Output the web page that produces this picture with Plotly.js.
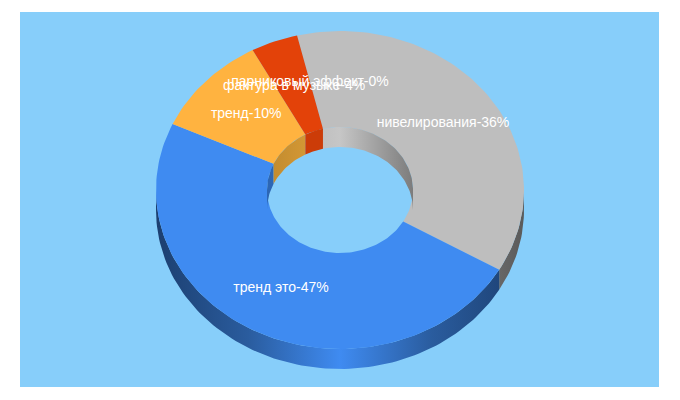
<!DOCTYPE html>
<html><head><meta charset="utf-8">
<script src="https://cdn.plot.ly/plotly-3.0.1.min.js"></script>
<style>html,body{margin:0;padding:0;background:#fff}#c{width:680px;height:400px}</style></head>
<body><div id="c"></div>
<script>
// Data
const categories = ["нивелирования","тренд это","тренд","фактура в музыке","парниковый эффект"];
const shares = [36,47,10,4,0];
// Styles
const topColors = ["#BEBEBE","#3F8BF1","#FFB340","#E34209","#E34209"];
const outerWall = [
  [[0,"#5a5a5a"],[0.5,"#bebebe"],[1,"#5a5a5a"]],
  [[0,"#1c3f70"],[0.25,"#2a5c9e"],[0.5,"#3f8bf1"],[0.75,"#2a5c9e"],[1,"#1c3f70"]],
  [[0,"#805a20"],[1,"#805a20"]],
  [[0,"#712105"],[1,"#712105"]],
  [[0,"#712105"],[1,"#712105"]]
];
const innerWall = [
  [[0,"#b0b0b0"],[0.5,"#c6c6c6"],[1,"#7c7c7c"]],
  [[0,"#2c66b4"],[1,"#3a80e0"]],
  [[0,"#c08a2e"],[0.6,"#eaa83c"],[1,"#eaa83c"]],
  [[0,"#cc3c08"],[1,"#cc3c08"]],
  [[0,"#cc3c08"],[1,"#cc3c08"]]
];
// Geometry
const cx=340, cy=190, rx=184, ry=159, hx=73, hy=63, depth=20, startDeg=-13.5;
const rad=d=>d*Math.PI/180;
const pt=(a,b,d,dy)=>[cx+a*Math.sin(rad(d)), cy-b*Math.cos(rad(d))+(dy||0)];
function arc(a,b,d1,d2,dy){
  const n=Math.max(2,Math.ceil(Math.abs(d2-d1)/1.5)), out=[];
  for(let i=0;i<=n;i++) out.push(pt(a,b,d1+(d2-d1)*i/n,dy));
  return out;
}
function poly(points,color,grad,x0,x1){
  const t={type:"scatter",mode:"lines",x:points.map(p=>p[0]).concat(points[0][0]),y:points.map(p=>p[1]).concat(points[0][1]),
    line:{width:0,color:color||"rgba(0,0,0,0)"},fill:"toself",hoverinfo:"skip",showlegend:false};
  if(grad){t.fillgradient={type:"horizontal",colorscale:grad,start:x0,stop:x1};}
  else t.fillcolor=color;
  return t;
}
const total=shares.reduce((s,v)=>s+v,0);
let acc=startDeg; const slices=shares.map((v,i)=>{const a=acc; acc+=v/total*360; return {i,a,b:acc,mid:(a+acc)/2};});
const traces=[];
// Outer walls: front half of the ring (90..270 deg)
slices.forEach(s=>{
  const a=Math.max(s.a,90), b=Math.min(s.b,270);
  if(b>a){
    traces.push(poly(arc(rx,ry,a,b,0).concat(arc(rx,ry,b,a,depth)),null,outerWall[s.i],cx-rx,cx+rx));
  }
});
// Top faces
slices.forEach(s=>{
  if(s.b-s.a>0) traces.push(poly(arc(rx,ry,s.a,s.b,0).concat(arc(hx,hy,s.b,s.a,0)),topColors[s.i]));
});
// Inner walls: far half of the hole (-90..90 deg, also 270..450)
slices.forEach(s=>{
  [[-90,90],[270,450]].forEach(r=>{
    const a=Math.max(s.a,r[0]), b=Math.min(s.b,r[1]);
    if(b>a) traces.push(poly(arc(hx,hy,a,b,0).concat(arc(hx,hy,b,a,depth)),null,innerWall[s.i],cx-hx,cx+hx));
  });
});
// Labels
const lab=slices.map(s=>pt((rx+hx)/2,(ry+hy)/2,s.mid,0));
traces.push({type:"scatter",mode:"text",x:lab.map(p=>p[0]),y:lab.map(p=>p[1]),
  text:categories.map((c,i)=>c+"-"+shares[i]+"%"),textposition:"middle center",
  textfont:{family:"Liberation Sans, Arial, sans-serif",size:14,color:"#fff"},hoverinfo:"skip",showlegend:false});
const layout={width:680,height:400,margin:{l:0,r:0,t:0,b:0},paper_bgcolor:"#fff",plot_bgcolor:"rgba(0,0,0,0)",showlegend:false,
  xaxis:{range:[0,680],visible:false,fixedrange:true},
  yaxis:{range:[400,0],visible:false,fixedrange:true},
  shapes:[{type:"rect",layer:"below",xref:"x",yref:"y",x0:20,x1:659,y0:12,y1:387,fillcolor:"#87CEFA",line:{width:0}}]};
Plotly.newPlot("c",traces,layout,{displayModeBar:false,staticPlot:true});
</script></body></html>
